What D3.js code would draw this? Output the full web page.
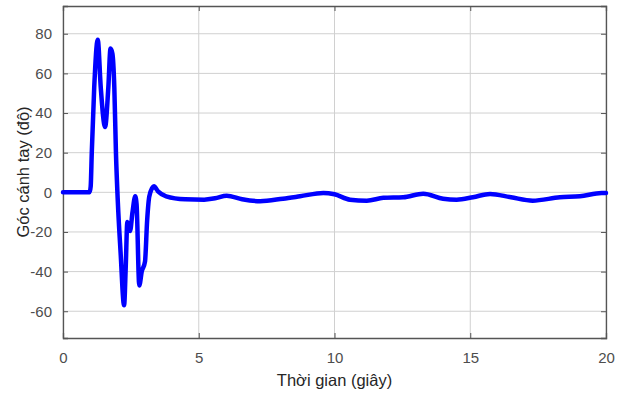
<!DOCTYPE html>
<html>
<head>
<meta charset="utf-8">
<script src="https://cdn.jsdelivr.net/npm/d3@7"></script>
<style>
    body { margin: 0; background: #fff; }
    text { font-family: "Liberation Sans", Arial, sans-serif; }
</style>
</head>
<body>
<svg id="chart"></svg>
<script>
// time (s) and arm angle (deg)
const timeValues = [0, 0.98, 1.02, 1.06, 1.15, 1.28, 1.39, 1.55, 1.67, 1.75, 1.82, 1.89, 1.95, 2.02,
    2.12, 2.25, 2.31, 2.37, 2.47, 2.56, 2.66, 2.71, 2.81, 2.9, 3.02, 3.1, 3.18, 3.35, 3.5, 3.8,
    4.5, 5.2, 5.6, 6.03, 6.6, 7.26, 8.1, 8.73, 9.59, 10.0, 10.57, 11.19, 11.8, 12.53, 13.27,
    14.0, 14.5, 15.1, 15.73, 16.5, 17.3, 18.3, 19.04, 19.84, 20];
const angleValues = [0, 0, 3, 20, 53, 77, 53, 33, 53, 72.5, 70, 53, 20, -5,
    -30, -57, -38, -15, -19.5, -10, -2, -6, -47, -40, -35, -14, -2, 3, 0.5, -2,
    -3.5, -3.7, -3, -1.7, -3.5, -4.5, -3.2, -2, -0.3, -1, -3.7, -4.2, -2.8, -2.5, -0.7,
    -3.2, -3.7, -2.5, -0.8, -2.5, -4.2, -2.5, -2, -0.3, -0.3];
const xTicks = [0, 5, 10, 15, 20];
const yTicks = [-60, -40, -20, 0, 20, 40, 60, 80];
const xLabel = "Thời gian (giây)";
const yLabel = "Góc cánh tay (độ)";

const width = 629;
const height = 396;
const margin = { top: 6, right: 23, bottom: 58, left: 63 };
const plotW = width - margin.left - margin.right;
const plotH = height - margin.top - margin.bottom;

const svg = d3.select("#chart")
    .attr("width", width)
    .attr("height", height);

const x = d3.scaleLinear().domain([0, 20]).range([0, plotW]);
const y = d3.scaleLinear().domain([-73.5, 94]).range([plotH, 0]);

const g = svg.append("g")
    .attr("transform", `translate(${margin.left},${margin.top})`);

// grid
g.selectAll(".vgrid")
    .data(xTicks)
    .enter()
    .append("line")
    .attr("x1", d => x(d)).attr("x2", d => x(d))
    .attr("y1", 0).attr("y2", plotH)
    .attr("stroke", "#d0d0d0")
    .attr("stroke-width", 1);

g.selectAll(".hgrid")
    .data(yTicks)
    .enter()
    .append("line")
    .attr("x1", 0).attr("x2", plotW)
    .attr("y1", d => y(d)).attr("y2", d => y(d))
    .attr("stroke", "#d0d0d0")
    .attr("stroke-width", 1);

// axes (inward ticks, MATLAB style), plain hyphen for negatives
const axisColor = "#555";
const fmt = d => String(d);
const bottomAxis = g.append("g")
    .attr("transform", `translate(0,${plotH})`)
    .call(d3.axisBottom(x).tickValues(xTicks).tickSize(-5).tickPadding(14).tickFormat(fmt));
const topAxis = g.append("g")
    .call(d3.axisTop(x).tickValues(xTicks).tickSize(-5).tickFormat(""));
const leftAxis = g.append("g")
    .call(d3.axisLeft(y).tickValues(yTicks).tickSize(-5).tickPadding(11).tickFormat(fmt));
const rightAxis = g.append("g")
    .attr("transform", `translate(${plotW},0)`)
    .call(d3.axisRight(y).tickValues(yTicks).tickSize(-5).tickFormat(""));

[bottomAxis, topAxis, leftAxis, rightAxis].forEach(a => {
    a.select(".domain").attr("stroke", axisColor).attr("stroke-width", 1.3);
    a.selectAll(".tick line").attr("stroke", axisColor);
    a.selectAll(".tick text")
        .attr("fill", "#4d4d4d")
        .style("font-size", "15px")
        .style("font-family", "'Liberation Sans', Arial, sans-serif");
});

// the curve
const line = d3.line()
    .x((d, i) => x(timeValues[i]))
    .y(d => y(d))
    .curve(d3.curveMonotoneX);

g.append("path")
    .datum(angleValues)
    .attr("d", line)
    .attr("fill", "none")
    .attr("stroke", "#0000ff")
    .attr("stroke-width", 4.5)
    .attr("stroke-linejoin", "round")
    .attr("stroke-linecap", "round");

// labels
svg.append("text")
    .attr("x", margin.left + plotW / 2)
    .attr("y", 386)
    .attr("text-anchor", "middle")
    .attr("fill", "#262626")
    .style("font-size", "16.5px")
    .text(xLabel);

svg.append("text")
    .attr("transform", `translate(29,${margin.top + plotH / 2}) rotate(-90)`)
    .attr("text-anchor", "middle")
    .attr("fill", "#262626")
    .style("font-size", "16.5px")
    .text(yLabel);
</script>
</body>
</html>
